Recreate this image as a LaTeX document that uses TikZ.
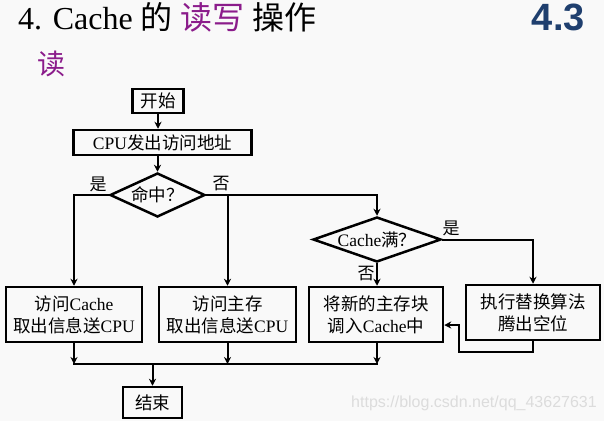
\documentclass[tikz,border=0pt]{standalone}
\usepackage{fontspec}
\setmainfont{Liberation Serif}
\newfontfamily\cjk{Noto Sans CJK SC}
\newfontfamily\arialb{Liberation Sans}
\usetikzlibrary{arrows.meta,shapes.geometric,calc}
\definecolor{bgc}{HTML}{F9F9F9}
\definecolor{ttlpurple}{HTML}{8B1C8B}
\definecolor{secblue}{HTML}{1F3F6E}
\definecolor{wmgray}{HTML}{DCDCDC}
\newcommand\zh[1]{{\cjk #1}}
\begin{document}
\begin{tikzpicture}[x=1pt,y=-1pt,
  box/.style={draw, line width=2.5pt, rectangle, inner sep=0pt, align=center, font=\fontsize{17.5}{22}\selectfont},
  dia/.style={draw, line width=2.5pt, diamond, inner sep=0pt},
  dtext/.style={inner sep=0pt, font=\fontsize{17.5}{22}\selectfont},
  conn/.style={line width=2pt},
  arr/.style={conn, -{Stealth[length=7pt,width=7pt]}},
  lbl/.style={inner sep=0pt, font=\cjk\fontsize{17}{20}\selectfont},
]
\path[fill=bgc] (0,0) rectangle (604,421);
\useasboundingbox (0,0) rectangle (604,421);

% titles
\node[anchor=base west, inner sep=0pt, font=\fontsize{32}{36}\selectfont] (title) at (18,29) {4. Cache \zh{的} {\color{ttlpurple}\zh{读写}} \zh{操作}};
\node[anchor=center, inner sep=0pt, text=ttlpurple, font=\cjk\fontsize{28}{30}\selectfont] (sub) at (51.5,63.5) {读};
\node[anchor=base east, inner sep=0pt, text=secblue, font=\arialb\bfseries\fontsize{38}{40}\selectfont] (sec) at (585,30) {4.3};

% nodes
\node[box, minimum width=51pt, minimum height=24pt] (start) at (158,101) {\zh{开始}};
\node[box, minimum width=178pt, minimum height=25pt] (cpu) at (162.5,142.5) {CPU\zh{发出访问地址}};
\node[dia, minimum width=95pt, minimum height=44pt] (hit) at (157.5,195) {};
\node[dtext] (hittext) at (hit.center) {\zh{命中？}};
\node[dia, minimum width=128pt, minimum height=45pt] (full) at (377,239.5) {};
\node[dtext] (fulltext) at (full.center) {Cache\zh{满？}};
\node[box, minimum width=136pt, minimum height=55pt] (b1) at (74,314.5) {\zh{访问}Cache\\\zh{取出信息送}CPU};
\node[box, minimum width=137pt, minimum height=55pt] (b2) at (227.5,314.5) {\zh{访问主存}\\\zh{取出信息送}CPU};
\node[box, minimum width=134pt, minimum height=55pt] (b3) at (376,314.5) {\zh{将新的主存块}\\\zh{调入}Cache\zh{中}};
\node[box, minimum width=134pt, minimum height=55pt] (b4) at (533,312.5) {\zh{执行替换算法}\\\zh{腾出空位}};
\node[box, minimum width=59pt, minimum height=31pt] (end) at (152.5,402.5) {\zh{结束}};

% labels
\node[lbl] (yes1) at (98,184) {是};
\node[lbl] (no1) at (221,184) {否};
\node[lbl] (yes2) at (451,228) {是};
\node[lbl] (no2) at (366,274) {否};

% connectors
\draw[arr] (start.south) -- (start.south |- cpu.north);
\draw[arr] (hit.north |- cpu.south) -- (hit.north);
\draw[arr] (hit.west) -| (b1.north);
\draw[arr] (hit.east) -| (full.north);
\draw[arr] (hit.east -| b2.north) -- (b2.north);
\draw[arr] (full.east) -| (b4.north);
\draw[arr] (full.south) -- (full.south |- b3.north);
\coordinate (retrow) at (459,352);
\draw[arr] (b4.south) |- (retrow) |- ($(b3.east)+(0,10.5)$);
\coordinate (merge) at (152.5,364);
\draw[arr] (b1.south) -- (b1.south |- merge);
\draw[arr] (b2.south) -- (b2.south |- merge);
\draw[arr] (full.south |- b3.south) -- (full.south |- merge);
\draw[conn] ([xshift=-1pt]b1.south |- merge) -- ([xshift=1pt]full.south |- merge);
\draw[arr] (merge) -- (end.north);

% watermark
\node[inner sep=0pt, text=wmgray, font=\arialb\fontsize{16}{18}\selectfont] (wm) at (474,403) {https://blog.csdn.net/qq\_43627631};
\end{tikzpicture}
\end{document}
